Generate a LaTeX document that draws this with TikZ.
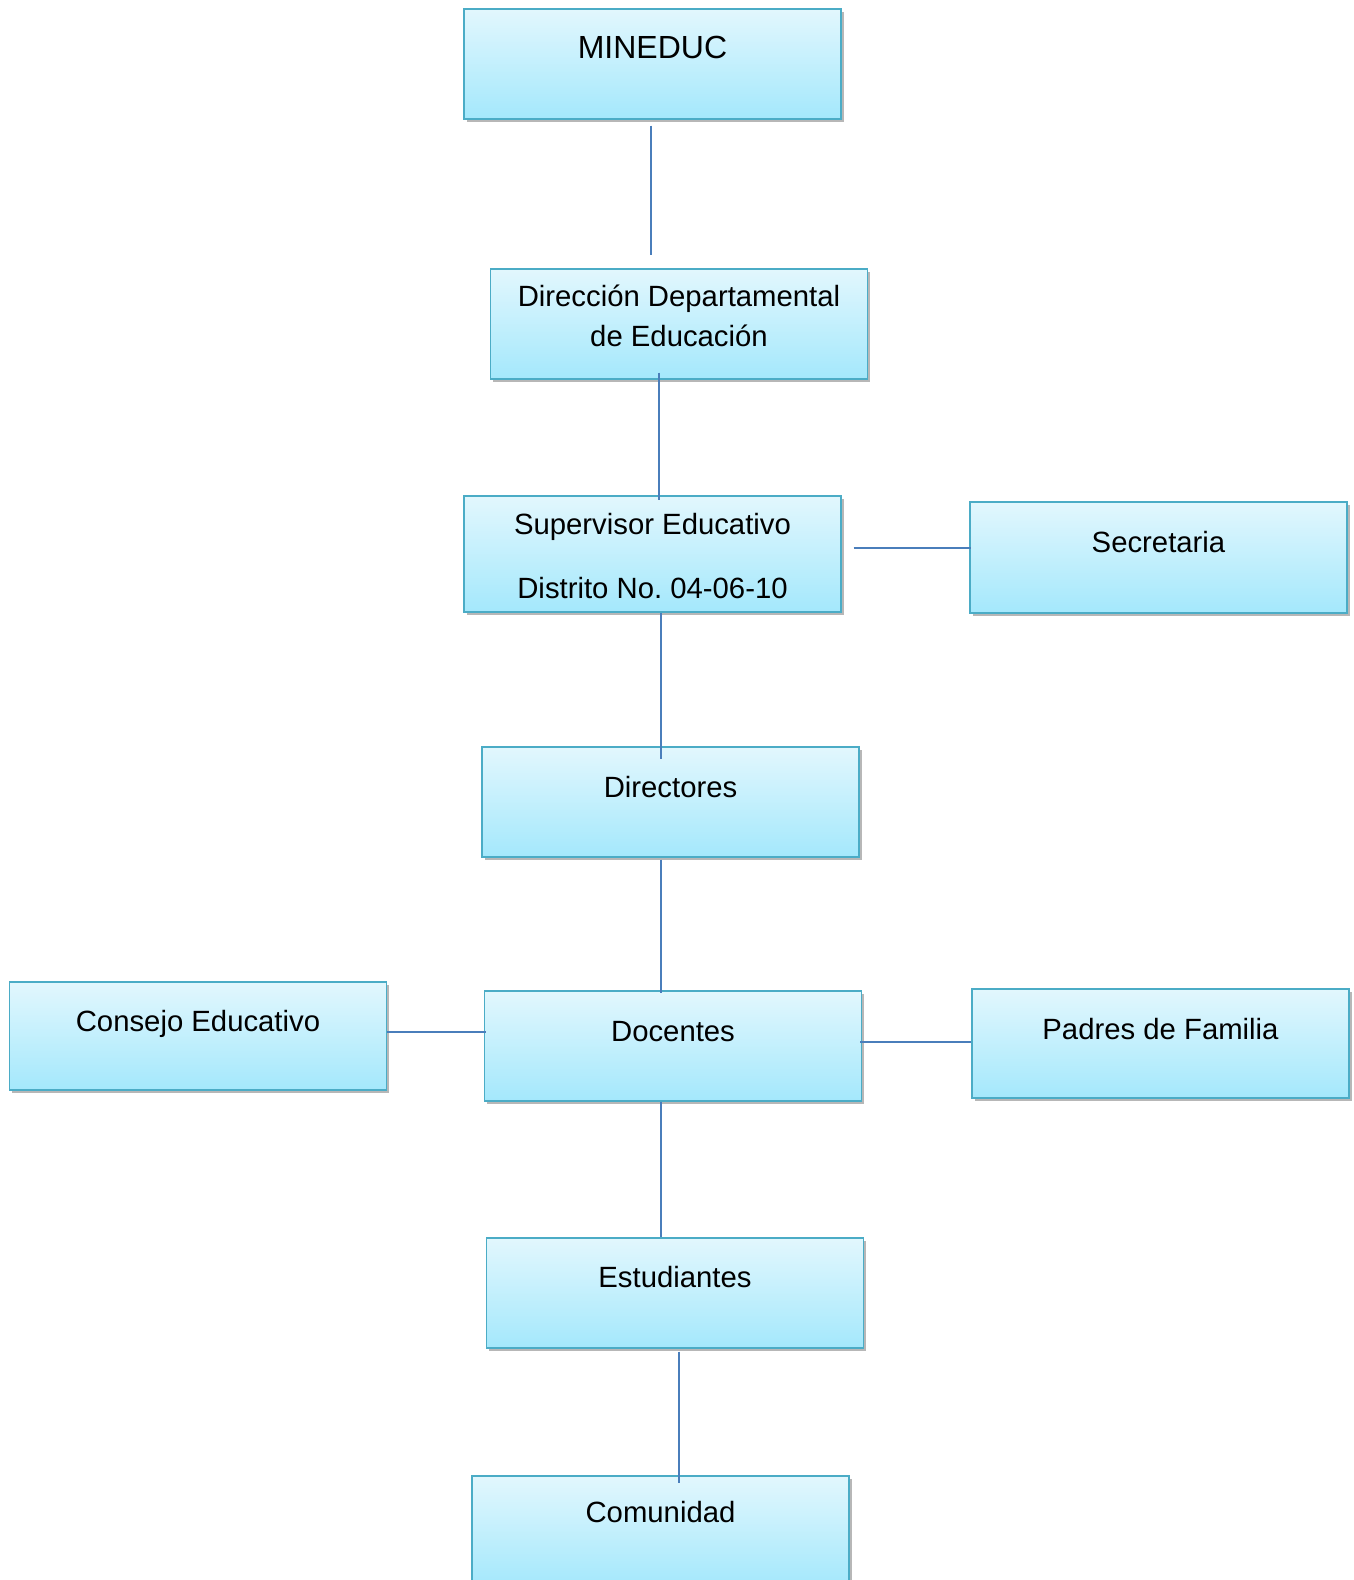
\documentclass[tikz,border=0pt]{standalone}
\usepackage{fontspec}
\setmainfont{Liberation Sans}
\usetikzlibrary{calc,shadows}
\frenchspacing
\definecolor{boxtop}{RGB}{226,247,253}
\definecolor{boxbot}{RGB}{164,232,252}
\definecolor{boxline}{RGB}{75,172,198}
\definecolor{connline}{RGB}{74,126,187}
\tikzset{
  orgbox/.style={rectangle, draw=boxline, line width=1.4pt, top color=boxtop, bottom color=boxbot,
    minimum width=377pt, minimum height=110pt, inner sep=0pt,
    drop shadow={shadow xshift=2.5pt, shadow yshift=-3pt, opacity=0.4, fill=black!70}},
  orgtxt/.style={anchor=base, inner sep=0pt, font=\fontsize{29.3}{40}\selectfont},
  bigtxt/.style={anchor=base, inner sep=0pt, font=\fontsize{32}{40}\selectfont},
  conn/.style={draw=connline, line width=1.4pt}
}
\begin{document}
\begin{tikzpicture}[x=1pt,y=1pt]
\useasboundingbox (0,0) rectangle (1354,-1580);
\fill[white] (0,0) rectangle (1354,-1580);
% boxes
\node[orgbox] (mineduc) at (652.5,-64) {};
\node[orgbox] (direccion) at (679,-324) {};
\node[orgbox, minimum height=116pt] (supervisor) at (652.5,-554) {};
\node[orgbox, minimum height=111pt] (secretaria) at (1158.5,-557.5) {};
\node[orgbox] (directores) at (670.5,-802) {};
\node[orgbox, minimum height=108pt] (consejo) at (198,-1036) {};
\node[orgbox] (docentes) at (673,-1046) {};
\node[orgbox, minimum height=109pt] (padres) at (1160.5,-1043.5) {};
\node[orgbox] (estudiantes) at (675,-1293) {};
\node[orgbox] (comunidad) at (660.5,-1531) {};
% texts
\node[bigtxt] (mineducT) at ($(mineduc.north)+(0,-50.5)$) {MINEDUC};
\node[orgtxt] (direccionT1) at ($(direccion.north)+(0,-38.5)$) {Dirección Departamental};
\node[orgtxt] (direccionT2) at ($(direccion.north)+(0,-78.5)$) {de Educación};
\node[orgtxt] (supervisorT1) at ($(supervisor.north)+(0,-39.5)$) {Supervisor Educativo};
\node[orgtxt] (supervisorT2) at ($(supervisor.north)+(0,-103.5)$) {Distrito No.\ 04-06-10};
\node[orgtxt] (secretariaT) at ($(secretaria.north)+(0,-51.5)$) {Secretaria};
\node[orgtxt] (directoresT) at ($(directores.north)+(0,-51.5)$) {Directores};
\node[orgtxt] (consejoT) at ($(consejo.north)+(0,-50.5)$) {Consejo Educativo};
\node[orgtxt] (docentesT) at ($(docentes.north)+(0,-51.5)$) {Docentes};
\node[orgtxt] (padresT) at ($(padres.north)+(0,-51.5)$) {Padres de Familia};
\node[orgtxt] (estudiantesT) at ($(estudiantes.north)+(0,-50.5)$) {Estudiantes};
\node[orgtxt] (comunidadT) at ($(comunidad.north)+(0,-47.5)$) {Comunidad};
% connectors
\draw[conn] ($(mineduc.south)+(-1.5,-6)$) -- ($(mineduc.south |- direccion.north)+(-1.5,13)$);
\draw[conn] ($(direccion.south)+(-20,7)$) -- ($(direccion.south |- supervisor.north)+(-20,-5)$);
\draw[conn] ($(supervisor.east)+(12,6)$) -- ($(supervisor.east -| secretaria.west)+(2,6)$);
\draw[conn] ($(supervisor.south)+(8.5,0)$) -- ($(supervisor.south |- directores.north)+(8.5,-13)$);
\draw[conn] ($(directores.south)+(-9.5,-2)$) -- ($(directores.south |- docentes.north)+(-9.5,-3)$);
\draw[conn] ($(consejo.east)+(0,4)$) -- ($(consejo.east -| docentes.west)+(2,4)$);
\draw[conn] ($(docentes.east)+(-2,4)$) -- ($(docentes.east -| padres.west)+(0,4)$);
\draw[conn] ($(docentes.south)+(-12,0)$) -- ($(docentes.south |- estudiantes.north)+(-12,0)$);
\draw[conn] ($(estudiantes.south)+(4,-3)$) -- ($(estudiantes.south |- comunidad.north)+(4,-8)$);
\end{tikzpicture}
\end{document}
